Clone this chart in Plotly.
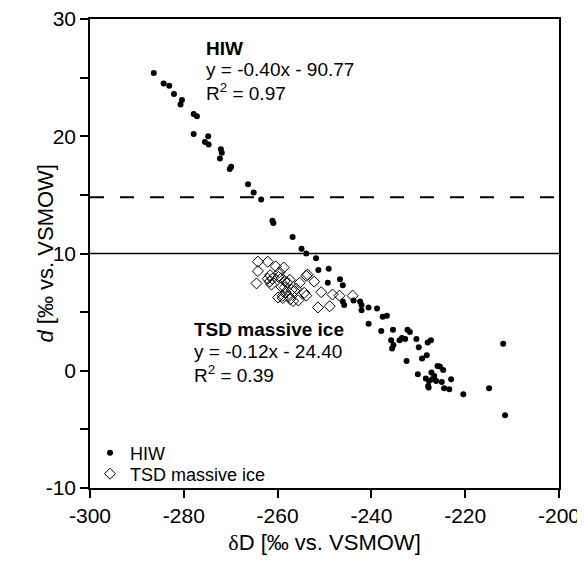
import plotly.graph_objects as go

# HIW data (dD, d-excess)
hiw_dD = [-286.4, -284.3, -283.1, -282.1, -280.4, -280.7, -277.9, -277.2, -277.9, -274.8,
          -275.5, -274.7, -272.1, -271.9, -272.3, -269.9, -270.2, -266.3, -265.1, -263.5,
          -261.1, -260.9, -256.8, -254.9, -253.9, -251.8, -251.3, -249.1, -249.3, -246.7,
          -246.1, -246.1, -245.8, -243.8, -242.4, -242.1, -242.1, -240.6, -238.8, -240.6,
          -237.6, -236.7, -237.9, -235.4, -232.3, -231.8, -235.8, -235.3, -235.6, -234.0,
          -233.5, -232.8, -230.4, -229.9, -228.0, -227.3, -232.5, -229.2, -228.2, -230.1,
          -225.9, -225.4, -224.7, -227.2, -226.6, -228.4, -227.7, -227.0, -226.2, -227.9,
          -227.8, -225.0, -224.5, -223.4, -223.0, -220.4, -214.9, -211.9, -211.5]
hiw_d = [25.4, 24.5, 24.3, 23.6, 23.1, 22.7, 21.9, 21.7, 20.2, 20.0,
         19.5, 19.3, 18.9, 18.6, 18.1, 17.4, 17.2, 15.9, 15.2, 14.6,
         12.8, 12.6, 11.4, 10.4, 10.0, 9.6, 8.6, 8.7, 7.5, 7.8,
         7.3, 5.9, 5.6, 6.0, 5.9, 5.6, 5.15, 5.4, 5.3, 4.0,
         4.6, 4.7, 3.4, 3.5, 3.5, 3.3, 2.6, 2.2, 1.9, 2.6,
         2.8, 2.7, 2.7, 2.0, 2.4, 2.6, 0.83, 1.04, 1.32, -0.3,
         0.41, 0.36, 0.07, -0.15, -0.44, -0.66, -0.87, -0.72, -0.87, -1.29,
         -1.43, -0.95, -1.49, -1.57, -0.72, -2.0, -1.5, 2.3, -3.8]

# TSD massive ice data
tsd_dD = [-264.2, -262.1, -264.2, -260.4, -258.7, -264.5, -261.6, -262.1, -261.1, -261.7,
          -259.6, -259.2, -259.8, -261.3, -258.5, -258.0, -257.4, -258.5, -259.2, -259.9,
          -258.3, -258.9, -257.6, -257.3, -256.7, -256.4, -256.0, -255.3, -254.3, -253.9,
          -253.9, -253.6, -252.2, -250.7, -251.4, -248.9, -248.3, -246.8, -244.0, -258.9,
          -255.6, -257.0]
tsd_d = [9.3, 9.3, 8.5, 8.9, 8.8, 7.45, 8.15, 7.85, 7.85, 7.6,
         8.4, 7.9, 8.0, 7.35, 7.65, 7.55, 7.75, 7.1, 7.15, 6.25,
         6.7, 6.4, 6.35, 6.1, 5.95, 6.8, 7.0, 7.5, 6.65, 6.4,
         8.1, 8.2, 7.6, 6.7, 5.4, 5.5, 6.5, 6.4, 6.4, 6.2,
         6.0, 6.9]

series_names = ["HIW", "TSD massive ice"]
ref_dashed = 14.8
ref_solid = 10

x_ticks = [-300, -280, -260, -240, -220, -200]
y_tickvals = [-10, -5, 0, 5, 10, 15, 20, 25, 30]
y_ticktext = ["-10", "", "0", "", "10", "", "20", "", "30"]

hiw_label = ["<b>HIW</b>", "y = -0.40x - 90.77", "R<sup>2</sup> = 0.97"]
tsd_label = ["<b>TSD massive ice</b>", "y = -0.12x - 24.40", "R<sup>2</sup> = 0.39"]
x_title = "<span style='font-family:Liberation Serif'>δ</span>D [‰ vs. VSMOW]"
y_title = "<i>d</i> [‰ vs. VSMOW]"

FONT = "Liberation Sans, Arial, sans-serif"
PLOT_W = 469

fig = go.Figure()
fig.add_trace(go.Scatter(x=hiw_dD, y=hiw_d, mode="markers", name=series_names[0],
                         legend="legend",
                         marker=dict(symbol="circle", size=6, color="black")))
fig.add_trace(go.Scatter(x=tsd_dD, y=tsd_d, mode="markers", name=series_names[1],
                         legend="legend2",
                         marker=dict(symbol="diamond-open", size=8.5, color="black",
                                     line=dict(width=1, color="black"))))

fig.add_hline(y=ref_dashed, line=dict(color="black", width=2, dash="14px,16px"))
fig.add_hline(y=ref_solid, line=dict(color="black", width=1.5))

for i, t in enumerate(hiw_label):
    fig.add_annotation(x=-275.5, y=[27.5, 25.66, 23.8][i], text=t, showarrow=False,
                       xanchor="left", yanchor="middle", borderpad=0,
                       font=dict(size=19, color="black", family=FONT))
for i, t in enumerate(tsd_label):
    fig.add_annotation(x=-278.1, y=[3.53, 1.66, -0.3][i], text=t, showarrow=False,
                       xanchor="left", yanchor="middle", borderpad=0,
                       font=dict(size=19, color="black", family=FONT))

# y-axis title as rotated text
fig.add_annotation(xref="paper", yref="paper", x=(45 - 90) / PLOT_W, y=0.5, text=y_title,
                   textangle=-90, showarrow=False, xanchor="center", yanchor="middle",
                   font=dict(size=22, color="black", family=FONT))

leg_common = dict(xanchor="left", yanchor="middle", bgcolor="rgba(0,0,0,0)",
                  font=dict(size=18, family=FONT, color="black"), itemsizing="trace")
fig.update_layout(
    width=577, height=551,
    margin=dict(l=82, r=26, t=11, b=71),
    plot_bgcolor="white", paper_bgcolor="white",
    font=dict(family=FONT, color="black", size=21),
    showlegend=True,
    legend=dict(x=0.0, y=(488 - 453) / PLOT_W, **leg_common),
    legend2=dict(x=0.0, y=(488 - 474) / PLOT_W, **leg_common),
)
fig.update_xaxes(range=[-300, -200], tickvals=x_ticks, ticktext=[str(v) for v in x_ticks],
                 ticks="outside", ticklen=8, tickwidth=1.5, tickcolor="black",
                 showline=True, linecolor="black", linewidth=1.5, mirror=True,
                 showgrid=False, zeroline=False, tickfont=dict(size=21), automargin=False,
                 ticklabeloverflow="allow",
                 title=dict(text=x_title, font=dict(size=22), standoff=9))
fig.update_yaxes(range=[-10, 30], tickvals=y_tickvals, ticktext=y_ticktext,
                 ticks="outside", ticklen=8, tickwidth=1.5, tickcolor="black",
                 showline=True, linecolor="black", linewidth=1.5, mirror=True,
                 showgrid=False, zeroline=False, tickfont=dict(size=21), automargin=False,
                 ticklabeloverflow="allow")

fig.write_html("out.html")
